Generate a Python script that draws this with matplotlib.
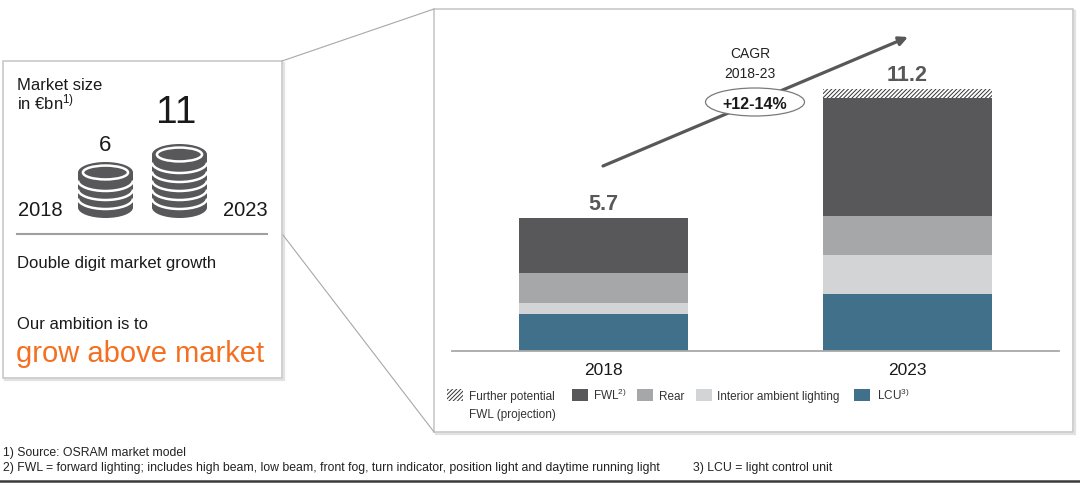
import matplotlib
matplotlib.use("Agg")
import matplotlib.pyplot as plt
from matplotlib.patches import Rectangle, Ellipse, Arc

plt.rcParams['font.family'] = ['Liberation Sans', 'DejaVu Sans']
plt.rcParams['mathtext.fontset'] = 'custom'
plt.rcParams['mathtext.rm'] = 'Liberation Sans'
plt.rcParams['mathtext.it'] = 'Liberation Sans:italic'
plt.rcParams['mathtext.bf'] = 'Liberation Sans:bold'
plt.rcParams['hatch.linewidth'] = 0.7

# ---------------- data ----------------
years = ['2018', '2023']
lcu = [1.60, 2.45]
interior = [0.45, 1.68]
rear = [1.30, 1.64]
fwl = [2.35, 5.05]
fwl_potential = [0.0, 0.38]
total_labels = ['5.7', '11.2']

coin_counts = [4, 6]
market_size_labels = ['6', '11']
cagr_label = '+12-14%'

legend_names = ['Further potential\nFWL (projection)', r'FWL$^{2)}$', 'Rear',
                'Interior ambient lighting', r'LCU$^{3)}$']

C_FWL = '#58585a'
C_REAR = '#a6a7a9'
C_INT = '#d3d4d6'
C_LCU = '#41718a'
C_TXT = '#1a1a1a'
C_ORANGE = '#f37021'
C_FRAME = '#c4c4c4'

W, H = 1080, 485
fig = plt.figure(figsize=(W / 100, H / 100), dpi=100)
fig.patch.set_facecolor('white')

# overlay axes in pixel coordinates (y downwards)
ov = fig.add_axes([0, 0, 1, 1], zorder=0)
ov.set_xlim(0, W)
ov.set_ylim(H, 0)
ov.axis('off')

# ---- frames ----
def frame(x0, y0, x1, y1):
    ov.add_patch(Rectangle((x0 + 2, y0 + 2), x1 - x0, y1 - y0, fc='none', ec='#e2e2e2', lw=1.6))
    ov.add_patch(Rectangle((x0, y0), x1 - x0, y1 - y0, fc='white', ec=C_FRAME, lw=1.1))

frame(3, 62, 282, 379)
frame(434, 10, 1073, 433)
ov.plot([282, 434], [62, 10], color='#a8a8a8', lw=0.8)
ov.plot([283, 434], [236, 433], color='#a8a8a8', lw=0.8)

# ---- left panel ----
ov.text(17, 89.5, 'Market size', fontsize=12, color=C_TXT, va='baseline')
ov.text(17, 109.5, r'in €bn$^{1)}$', fontsize=12, color=C_TXT, va='baseline')
coin_cx = [105.5, 179.5]
label_y = [150.7, 122.7]
label_fs = [16, 28]
for cx, lab, ly, fs in zip(coin_cx, market_size_labels, label_y, label_fs):
    ov.text(cx - (3 if fs > 20 else 0), ly, lab, fontsize=fs, color=C_TXT,
            ha='center', va='baseline')
ov.text(40, 216, years[0], fontsize=14.5, color=C_TXT, ha='center', va='baseline')
ov.text(245, 216, years[1], fontsize=14.5, color=C_TXT, ha='center', va='baseline')

CW, CH, CT, CP = 55, 21, 8, 9
for cx, n in zip(coin_cx, coin_counts):
    for k in range(n):
        cy = 219 - CT - CH / 2 - k * CP
        ov.add_patch(Ellipse((cx, cy + CT), CW, CH, fc=C_FWL, ec='none', zorder=2 + k))
        ov.add_patch(Rectangle((cx - CW / 2, cy), CW, CT, fc=C_FWL, ec='none', zorder=2 + k))
        ov.add_patch(Ellipse((cx, cy), CW, CH, fc=C_FWL, ec='none', zorder=2 + k))
        if k > 0:
            ov.add_patch(Arc((cx, cy + CT), CW, CH, theta1=0, theta2=180,
                             color='white', lw=1.8, zorder=2 + k))
        if k == n - 1:
            ov.add_patch(Ellipse((cx, cy), CW * 0.82, CH * 0.66, fc=C_FWL, ec='white',
                                 lw=1.8, zorder=3 + k))

ov.plot([17, 267], [235, 235], color='#a0a0a0', lw=1.5)
ov.text(17, 267.7, 'Double digit market growth', fontsize=12, color=C_TXT, va='baseline')
ov.text(17, 329.3, 'Our ambition is to', fontsize=12, color=C_TXT, va='baseline')
ov.text(16, 362.5, 'grow above market', fontsize=21, color=C_ORANGE, va='baseline')

# ---- CAGR arrow ----
ov.annotate('', xy=(908, 38), xytext=(603, 167),
            arrowprops=dict(arrowstyle='-|>', color=C_FWL, lw=2.3, mutation_scale=13,
                            shrinkA=0, shrinkB=0))
ov.add_patch(Ellipse((755, 103), 99, 28, fc='white', ec='#7a7a7a', lw=0.9, zorder=5))
ov.text(755, 109.3, cagr_label, fontsize=11.5, fontweight='bold', color=C_TXT,
        ha='center', va='baseline', zorder=6)
ov.text(750, 58.3, 'CAGR', fontsize=10, color='#222222', ha='center', va='baseline')
ov.text(750, 78.3, '2018-23', fontsize=10, color='#222222', ha='center', va='baseline')

# ---- legend ----
box_x = [447, 572, 637, 696, 854]
txt_x = [469, 593, 659, 717, 877]
leg_colors = [None, C_FWL, C_REAR, C_INT, C_LCU]
for i, (bx, tx, name, col) in enumerate(zip(box_x, txt_x, legend_names, leg_colors)):
    if col is None:
        ov.add_patch(Rectangle((bx, 390), 16, 12, fc='white', ec='#333333', lw=0,
                               hatch='////////'))
    else:
        ov.add_patch(Rectangle((bx, 390), 16, 12, fc=col, ec='none'))
    lines = name.split('\n')
    for j, ln in enumerate(lines):
        ov.text(tx, 400.5 + j * 17.5, ln, fontsize=8.5, color='#333333', va='baseline')

# ---- footnotes ----
ov.text(3, 456, '1) Source: OSRAM market model', fontsize=8.85, color='#222222', va='baseline')
ov.text(3, 471, '2) FWL = forward lighting; includes high beam, low beam, front fog, turn '
        'indicator, position light and daytime running light', fontsize=8.85,
        color='#222222', va='baseline')
ov.text(693, 471, '3) LCU = light control unit', fontsize=8.85, color='#222222', va='baseline')
ov.plot([0, 1080], [481.5, 481.5], color='#3a3a3a', lw=1.8)

# ---------------- bar chart ----------------
base_px = 352.3
px_per_unit = 23.4
ymax = 12
top_px = base_px - ymax * px_per_unit
ax = fig.add_axes([451.7 / W, (H - base_px) / H, (1059 - 451.7) / W,
                   (base_px - top_px) / H], zorder=1)
ax.patch.set_alpha(0)
x = [0, 1]
bw = 0.556
bottom = [0.0, 0.0]
for vals, col in [(lcu, C_LCU), (interior, C_INT), (rear, C_REAR), (fwl, C_FWL)]:
    ax.bar(x, vals, bw, bottom=bottom, color=col, linewidth=0)
    bottom = [b + v for b, v in zip(bottom, vals)]
ax.bar(x, fwl_potential, bw, bottom=bottom, color='white', edgecolor='#333333',
       linewidth=0, hatch='////////')
totals = [b + v for b, v in zip(bottom, fwl_potential)]
for xi, t, lab in zip(x, totals, total_labels):
    ax.annotate(lab, (xi, t), xytext=(0, 6.5), textcoords='offset points',
                ha='center', va='baseline', fontsize=15.5, fontweight='bold', color=C_FWL)

ax.set_xlim(-0.5, 1.5)
ax.set_ylim(0, ymax)
ax.set_xticks(x)
ax.set_xticklabels(years, fontsize=12.5, color=C_TXT)
ax.tick_params(axis='x', length=0, pad=8)
ax.set_yticks([])
for s in ['top', 'right', 'left']:
    ax.spines[s].set_visible(False)
ax.spines['bottom'].set_color('#a8a8a8')
ax.spines['bottom'].set_linewidth(1.3)

fig.savefig('out.png', dpi=100, facecolor='white')
